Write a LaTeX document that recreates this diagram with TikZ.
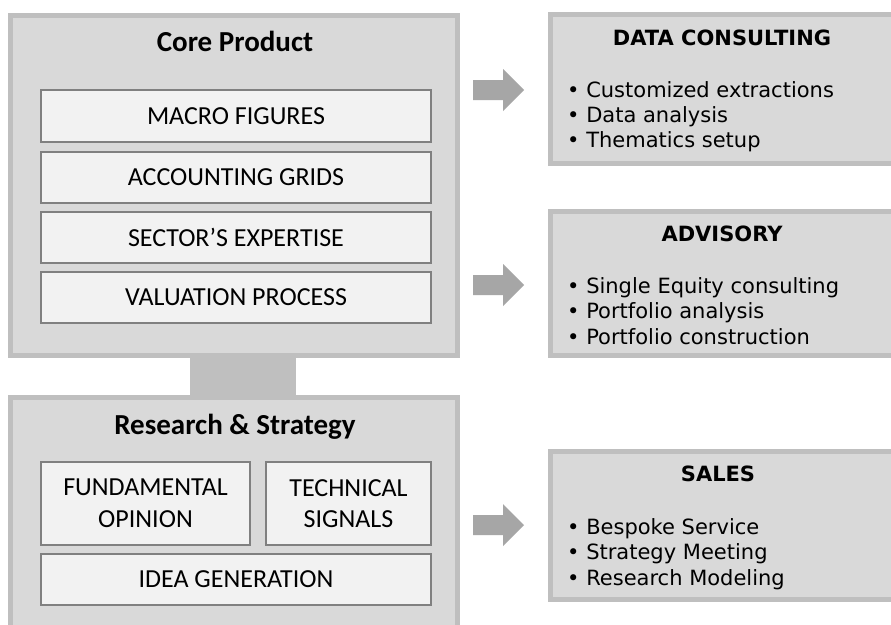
\documentclass[tikz,border=0pt]{standalone}
\usepackage{fontspec}
\setmainfont{Carlito}
\newfontfamily\verd{DejaVu Sans}
\definecolor{boxfill}{HTML}{D9D9D9}
\definecolor{boxline}{HTML}{BFBFBF}
\definecolor{itemfill}{HTML}{F2F2F2}
\definecolor{itemline}{HTML}{808080}
\definecolor{arrowgrey}{HTML}{A6A6A6}
\begin{document}
\begin{tikzpicture}[x=1pt,y=-1pt,
  outerbox/.style={draw=boxline,fill=boxfill,line width=5pt,inner sep=0pt,rectangle},
  itembox/.style={draw=itemline,fill=itemfill,line width=2pt,inner sep=0pt,rectangle,align=center,font=\fontsize{26}{31.6}\selectfont},
  lefttitle/.style={font=\bfseries\fontsize{29}{34}\selectfont,anchor=base,inner sep=0pt},
  righttitle/.style={font=\verd\bfseries\fontsize{21}{25}\selectfont,anchor=base,inner sep=0pt},
  bullets/.style={font=\verd\fontsize{21}{25.3}\selectfont,anchor=base west,inner sep=0pt,align=left},
  blockarrow/.style={fill=arrowgrey}]
\useasboundingbox (0,0) rectangle (891,624);
\clip (0,0) rectangle (891,624);
\fill[white] (0,0) rectangle (891,624);
% link between the two left blocks
\node[fill=boxline,inner sep=0pt,minimum width=106pt,minimum height=44pt] (link) at (243,377) {};
% Core product
\node[outerbox,minimum width=447pt,minimum height=340pt] (core) at (234,185.5) {};
\node[lefttitle] (coretitle) at (235,51.7) {Core Product};
\node[itembox,minimum width=390pt,minimum height=52pt] (macro) at (236,116) {MACRO FIGURES};
\node[itembox,minimum width=390pt,minimum height=51pt] (acc) at (236,177.5) {ACCOUNTING GRIDS};
\node[itembox,minimum width=390pt,minimum height=51pt] (sector) at (236,237.5) {SECTOR’S EXPERTISE};
\node[itembox,minimum width=390pt,minimum height=51pt] (valuation) at (236,297.5) {VALUATION PROCESS};
% Research & Strategy
\node[outerbox,minimum width=447pt,minimum height=250pt] (research) at (234,522.5) {};
\node[lefttitle] (restitle) at (235,434) {Research \& Strategy};
\node[itembox,minimum width=209pt,minimum height=83pt] (fund) at (145.5,503.5) {FUNDAMENTAL\\OPINION};
\node[itembox,minimum width=165pt,minimum height=83pt] (tech) at (348.5,503.5) {TECHNICAL\\SIGNALS};
\node[itembox,minimum width=390pt,minimum height=51pt] (idea) at (236,579.5) {IDEA GENERATION};
% Right boxes
\node[outerbox,minimum width=342.5pt,minimum height=149pt] (data) at (721.75,89) {};
\node[righttitle] (datatitle) at (722,45) {DATA CONSULTING};
\node[bullets] (databul) at (567,147.6) {• Customized extractions\\• Data analysis\\• Thematics setup};
\node[outerbox,minimum width=342.5pt,minimum height=144pt] (adv) at (721.75,283.5) {};
\node[righttitle] (advtitle) at (722,241.7) {ADVISORY};
\node[bullets] (advbul) at (567,344) {• Single Equity consulting\\• Portfolio analysis\\• Portfolio construction};
\node[outerbox,minimum width=342.5pt,minimum height=148pt] (sales) at (721.75,525.5) {};
\node[righttitle] (salestitle) at (718,481.7) {SALES};
\node[bullets] (salesbul) at (567,585) {• Bespoke Service\\• Strategy Meeting\\• Research Modeling};
% block arrows
\coordinate (a1) at (473,90);
\coordinate (a2) at (473,285);
\coordinate (a3) at (473,525);
\foreach \a in {a1,a2,a3}{
  \fill[blockarrow] (\a) ++(0,-10) -- ++(30,0) -- ++(0,-11) -- ++(21,21) -- ++(-21,21) -- ++(0,-11) -- ++(-30,0) -- cycle;
}
\end{tikzpicture}
\end{document}
